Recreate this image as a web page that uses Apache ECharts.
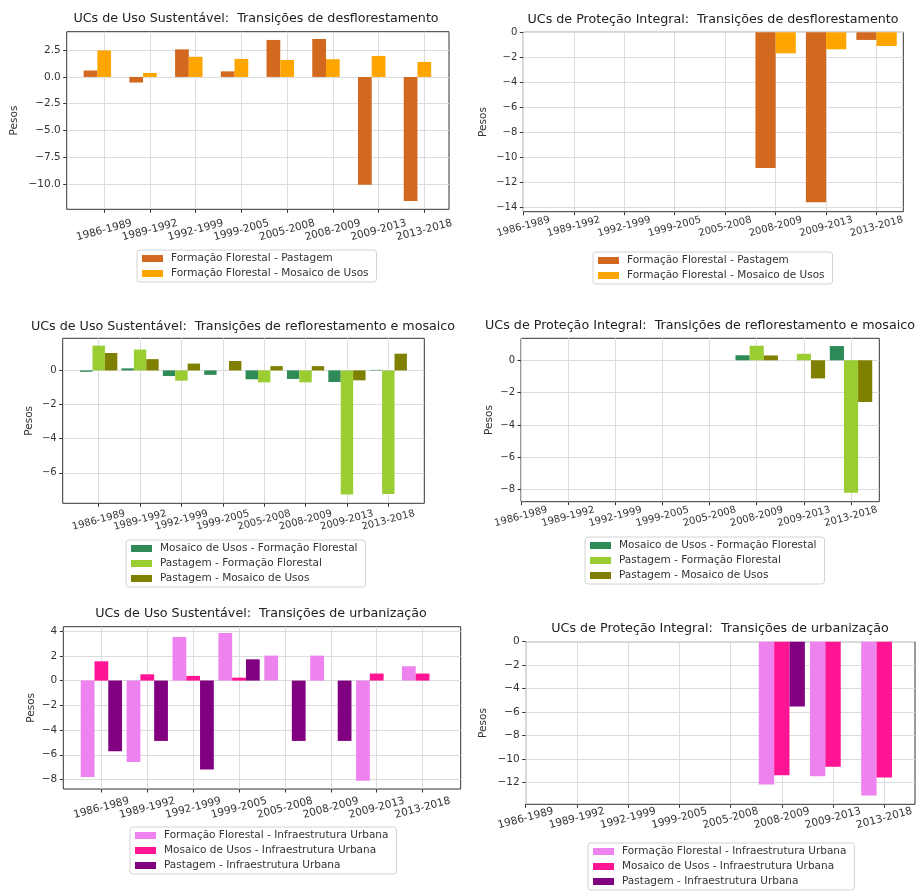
<!DOCTYPE html>
<html>
<head>
<meta charset="utf-8">
<script src="https://cdn.jsdelivr.net/npm/echarts@6/dist/echarts.min.js"></script>
<style>
  html, body { margin: 0; background: #fff; }
  #chart { width: 919px; height: 891px; }
</style>
</head>
<body>
<div id="chart"></div>
<script>
const periods = ['1986-1989', '1989-1992', '1992-1999', '1999-2005', '2005-2008', '2008-2009', '2009-2013', '2013-2018'];

// desflorestamento
const desfUsoPastagem = [0.6, -0.52, 2.57, 0.52, 3.45, 3.54, -10.06, -11.58];
const desfUsoMosaico = [2.47, 0.37, 1.88, 1.68, 1.58, 1.65, 1.96, 1.4];
const desfProtPastagem = [0, 0, 0, 0, 0, -10.83, -13.57, -0.61];
const desfProtMosaico = [0, 0, 0, 0, 0, -1.68, -1.36, -1.09];

// reflorestamento e mosaico
const reflUsoMosaicoFlor = [-0.08, 0.12, -0.33, -0.26, -0.52, -0.5, -0.68, 0.03];
const reflUsoPastFlor = [1.45, 1.22, -0.6, 0, -0.7, -0.7, -7.27, -7.23];
const reflUsoPastMosaico = [1.02, 0.66, 0.4, 0.55, 0.25, 0.25, -0.58, 0.98];
const reflProtMosaicoFlor = [0, 0, 0, 0, 0, 0.31, 0, 0.88];
const reflProtPastFlor = [0, 0, 0, 0, 0, 0.9, 0.4, -8.2];
const reflProtPastMosaico = [0, 0, 0, 0, 0, 0.3, -1.12, -2.58];

// urbanizacao
const urbUsoFlor = [-7.79, -6.58, 3.53, 3.85, 2.02, 2.02, -8.11, 1.16];
const urbUsoMosaico = [1.56, 0.51, 0.38, 0.24, 0, 0, 0.57, 0.57];
const urbUsoPastagem = [-5.71, -4.88, -7.2, 1.72, -4.88, -4.88, 0, 0];
const urbProtFlor = [0, 0, 0, 0, 0, -12.17, -11.46, -13.09];
const urbProtMosaico = [0, 0, 0, 0, 0, -11.37, -10.66, -11.57];
const urbProtPastagem = [0, 0, 0, 0, 0, -5.51, 0, 0];

// y tick labels
const ticksDesfUso = [2.5, 0, -2.5, -5, -7.5, -10];
const ticksDesfProt = [0, -2, -4, -6, -8, -10, -12, -14];
const ticksReflUso = [0, -2, -4, -6];
const ticksReflProt = [0, -2, -4, -6, -8];
const ticksUrbUso = [4, 2, 0, -2, -4, -6, -8];
const ticksUrbProt = [0, -2, -4, -6, -8, -10, -12];

const FONT = 'DejaVu Sans';
const xIdx = periods.map((p, i) => i);

const option = {
  animation: false,
  backgroundColor: '#fff',
  title: [], grid: [], xAxis: [], yAxis: [], legend: [], series: []
};

function addPanel(i, c) {
  option.title.push({
    text: c.title, left: c.tx, top: c.ty, textAlign: 'center', padding: 0,
    textStyle: { fontFamily: FONT, fontSize: 12.7, fontWeight: 'normal', color: '#222' }
  });
  option.grid.push({
    left: c.box[0], top: c.box[1], width: c.box[2], height: c.box[3],
    show: true, borderColor: '#333', borderWidth: 1, backgroundColor: '#fff'
  });
  option.xAxis.push({
    type: 'value', gridIndex: i, min: c.xr[0], max: c.xr[1],
    axisLine: { show: false, onZero: false },
    axisTick: { show: true, customValues: xIdx, length: 3.5, lineStyle: { color: '#333' } },
    axisLabel: {
      customValues: xIdx, formatter: v => periods[Math.round(v)],
      rotate: 15, align: 'center', verticalAlign: 'middle', margin: c.lm,
      fontFamily: FONT, fontSize: c.fs || 10.5, color: '#333'
    },
    splitLine: { show: true, lineStyle: { color: '#dcdcdc', width: 1 } }
  });
  option.yAxis.push({
    type: 'value', gridIndex: i, min: c.yr[0], max: c.yr[1],
    name: 'Pesos', nameLocation: 'middle', nameGap: c.ng,
    nameTextStyle: { fontFamily: FONT, fontSize: 10.5, color: '#333' },
    axisLine: { show: false, onZero: false },
    axisTick: { show: true, customValues: c.ticks, length: 3.5, lineStyle: { color: '#333' } },
    axisLabel: {
      customValues: c.ticks, margin: 6,
      formatter: v => (v < 0 ? '\u2212' : '') + Math.abs(v).toFixed(c.dec || 0),
      fontFamily: FONT, fontSize: c.fs || 10.5, color: '#333'
    },
    splitLine: { show: true, lineStyle: { color: '#dcdcdc', width: 1 } }
  });
  option.legend.push({
    left: c.lg[0], top: c.lg[1], orient: 'vertical', icon: 'rect',
    data: c.series.filter(s => s.name).map(s => s.name),
    itemWidth: 21, itemHeight: 7, itemGap: 4,
    padding: [3, 8, 3, 5], borderColor: '#d4d4d4', borderWidth: 1, borderRadius: 3,
    backgroundColor: '#fff',
    textStyle: { fontFamily: FONT, fontSize: 10.5, color: '#333', padding: [0, 0, 0, 3] }
  });
  c.series.forEach(s => {
    option.series.push({
      type: 'bar', name: s.name || ('vazio' + i), xAxisIndex: i, yAxisIndex: i,
      barWidth: c.bw, barGap: '0%',
      itemStyle: { color: s.color },
      data: s.data ? s.data.map((v, k) => [k, v]) : []
    });
  });
}

addPanel(0, {
  title: 'UCs de Uso Sustentável:  Transições de desflorestamento', tx: 256, ty: 12,
  box: [66.7, 31.7, 382.3, 177.6], xr: [-0.82, 7.54], yr: [-12.35, 4.22],
  ticks: ticksDesfUso, dec: 1, ng: 47, lm: 21, lg: [137, 250], bw: '30%',
  series: [
    { name: 'Formação Florestal - Pastagem', data: desfUsoPastagem, color: '#D2691E' },
    { name: 'Formação Florestal - Mosaico de Usos', data: desfUsoMosaico, color: '#FFA500' },
    { name: null, data: null, color: '#fff' }
  ]
});
addPanel(1, {
  title: 'UCs de Proteção Integral:  Transições de desflorestamento', tx: 713, ty: 13,
  box: [523.3, 32.3, 380, 179.4], xr: [0, 7.53], yr: [-14.33, 0],
  ticks: ticksDesfProt, ng: 35, lm: 15, fs: 10, lg: [593, 252], bw: '40%',
  series: [
    { name: 'Formação Florestal - Pastagem', data: desfProtPastagem, color: '#D2691E' },
    { name: 'Formação Florestal - Mosaico de Usos', data: desfProtMosaico, color: '#FFA500' }
  ]
});
addPanel(2, {
  title: 'UCs de Uso Sustentável:  Transições de reflorestamento e mosaico', tx: 243, ty: 320,
  box: [62.7, 338.3, 361.6, 165], xr: [-0.87, 7.87], yr: [-7.78, 1.88],
  ticks: ticksReflUso, ng: 28, lm: 17, fs: 10, lg: [126, 540], bw: '30%',
  series: [
    { name: 'Mosaico de Usos - Formação Florestal', data: reflUsoMosaicoFlor, color: '#2E8B57' },
    { name: 'Pastagem - Formação Florestal', data: reflUsoPastFlor, color: '#9ACD32' },
    { name: 'Pastagem - Mosaico de Usos', data: reflUsoPastMosaico, color: '#808000' }
  ]
});
addPanel(3, {
  title: 'UCs de Proteção Integral:  Transições de reflorestamento e mosaico', tx: 700, ty: 319,
  box: [521, 338.3, 358.3, 163.4], xr: [0, 7.6], yr: [-8.75, 1.36],
  ticks: ticksReflProt, ng: 26, lm: 15, fs: 10, lg: [585, 537], bw: '30%',
  series: [
    { name: 'Mosaico de Usos - Formação Florestal', data: reflProtMosaicoFlor, color: '#2E8B57' },
    { name: 'Pastagem - Formação Florestal', data: reflProtPastFlor, color: '#9ACD32' },
    { name: 'Pastagem - Mosaico de Usos', data: reflProtPastMosaico, color: '#808000' }
  ]
});
addPanel(4, {
  title: 'UCs de Uso Sustentável:  Transições de urbanização', tx: 261, ty: 607,
  box: [63.3, 626.7, 397.4, 162.3], xr: [-0.83, 7.83], yr: [-8.77, 4.36],
  ticks: ticksUrbUso, ng: 27, lm: 19, lg: [130, 827], bw: '30%',
  series: [
    { name: 'Formação Florestal - Infraestrutura Urbana', data: urbUsoFlor, color: '#EE82EE' },
    { name: 'Mosaico de Usos - Infraestrutura Urbana', data: urbUsoMosaico, color: '#FF1493' },
    { name: 'Pastagem - Infraestrutura Urbana', data: urbUsoPastagem, color: '#800080' }
  ]
});
addPanel(5, {
  title: 'UCs de Proteção Integral:  Transições de urbanização', tx: 720, ty: 622,
  box: [525.7, 641.7, 389.3, 162.6], xr: [0, 7.6], yr: [-13.85, 0],
  ticks: ticksUrbProt, ng: 37, lm: 14, lg: [588, 843], bw: '30%',
  series: [
    { name: 'Formação Florestal - Infraestrutura Urbana', data: urbProtFlor, color: '#EE82EE' },
    { name: 'Mosaico de Usos - Infraestrutura Urbana', data: urbProtMosaico, color: '#FF1493' },
    { name: 'Pastagem - Infraestrutura Urbana', data: urbProtPastagem, color: '#800080' }
  ]
});

const chart = echarts.init(document.getElementById('chart'));
chart.setOption(option);
</script>
</body>
</html>
